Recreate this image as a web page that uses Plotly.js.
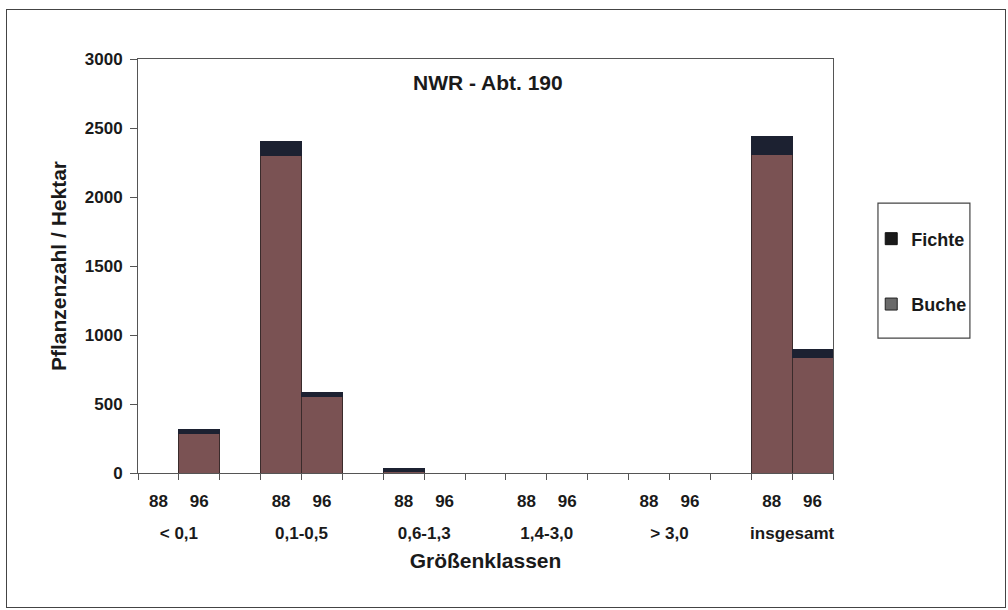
<!DOCTYPE html>
<html>
<head>
<meta charset="utf-8">
<script src="https://cdn.plot.ly/plotly-3.0.1.min.js"></script>
<style>
  html, body { margin: 0; padding: 0; background: #fff; }
  #wrap { position: relative; width: 1008px; height: 610px; }
  #chart { width: 1008px; height: 610px; }
  #frame { position: absolute; left: 6px; top: 9px; width: 998px; height: 597px;
           border: 1.5px solid #444; pointer-events: none; }
</style>
</head>
<body>
<div id="wrap">
  <div id="chart"></div>
  <div id="frame"></div>
</div>
<script>
// ---- data ----
const groups = ['< 0,1', '0,1-0,5', '0,6-1,3', '1,4-3,0', '> 3,0', 'insgesamt'];
const years = ['88', '96'];
const buche88  = [0, 2300, 10, 0, 0, 2310];
const buche96  = [285, 555, 0, 0, 0, 840];
const fichte88 = [0, 100, 25, 0, 0, 125];
const fichte96 = [30, 25, 0, 0, 0, 55];
const chartTitle = 'NWR - Abt. 190';
const yTitle = 'Pflanzenzahl / Hektar';
const xTitle = 'Größenklassen';

// ---- build slots: each group has two bars and one empty slot between groups ----
const slotsPerGroup = years.length + 1;
const nSlots = groups.length * slotsPerGroup - 1;
const xs = [], yearText = [], bucheVals = [], fichteVals = [];
groups.forEach((g, gi) => {
  years.forEach((yr, yi) => {
    xs.push(gi * slotsPerGroup + yi + 0.5);
    yearText.push(yr);
    bucheVals.push(yi === 0 ? buche88[gi] : buche96[gi]);
    fichteVals.push(yi === 0 ? fichte88[gi] : fichte96[gi]);
  });
});
const groupCenters = groups.map((g, gi) => gi * slotsPerGroup + years.length / 2);
const boundaries = Array.from({length: nSlots + 1}, (_, i) => i);

const FONT = 'Liberation Sans, Arial, Helvetica, sans-serif';
const bold = (size) => ({family: FONT, size: size, color: '#1a1a1a', weight: 'bold'});

const traces = [
  {type: 'bar', name: 'Buche', x: xs, y: bucheVals, width: 1, showlegend: false,
   marker: {color: '#7a5253', line: {color: '#3a2b2b', width: 1}}, hoverinfo: 'y'},
  {type: 'bar', name: 'Fichte', x: xs, y: fichteVals, width: 1, showlegend: false,
   marker: {color: '#1c2131', line: {color: '#1c2131', width: 1}}, hoverinfo: 'y'},
  // legend entries (swatch colours as in the printed legend)
  {type: 'bar', name: 'Fichte', x: [null], y: [null], legendgroup: 'f',
   marker: {color: '#1a1a1a', line: {color: '#111', width: 1}}},
  {type: 'bar', name: 'Buche', x: [null], y: [null], legendgroup: 'b',
   marker: {color: '#6a6a6a', line: {color: '#222', width: 1}}}
];

const layout = {
  width: 1008, height: 610,
  margin: {l: 138, r: 175, t: 59, b: 137},
  paper_bgcolor: '#fff', plot_bgcolor: '#fff',
  barmode: 'stack', bargap: 0,
  showlegend: true,
  legend: {x: 1.055, xanchor: 'left', y: 0.61, yanchor: 'top',
           traceorder: 'grouped', tracegroupgap: 39,
           bgcolor: 'rgba(0,0,0,0)', borderwidth: 0, font: bold(18)},
  xaxis: {range: [0, nSlots], tickmode: 'array', tickvals: boundaries,
          ticks: 'outside', ticklen: 6, tickcolor: '#555', tickwidth: 1,
          showticklabels: false, showline: true, linecolor: '#555', linewidth: 1,
          mirror: true, showgrid: false, zeroline: false, fixedrange: true,
          title: {text: xTitle, font: bold(21), standoff: 74}},
  xaxis2: {overlaying: 'x', anchor: 'y', side: 'bottom', range: [0, nSlots],
           tickmode: 'array', tickvals: xs, ticktext: yearText, ticks: '',
           showline: false, showgrid: false, zeroline: false,
           ticklabelstandoff: 16, tickfont: bold(17)},
  xaxis3: {overlaying: 'x', anchor: 'y', side: 'bottom', range: [0, nSlots],
           tickmode: 'array', tickvals: groupCenters, ticktext: groups, ticks: '',
           showline: false, showgrid: false, zeroline: false,
           ticklabelstandoff: 48, tickfont: bold(17)},
  yaxis: {range: [0, 3000], dtick: 500, tick0: 0, ticks: 'outside', ticklen: 7,
          tickcolor: '#555', showline: true, linecolor: '#555', linewidth: 1,
          mirror: true, showgrid: false, zeroline: false, tickfont: bold(17),
          ticklabelstandoff: 4,
          title: {text: yTitle, font: bold(21), standoff: 12}},
  annotations: [
    {xref: 'paper', yref: 'paper', x: 0.504, y: 0.944, text: chartTitle,
     showarrow: false, font: bold(21), xanchor: 'center', yanchor: 'middle'}
  ],
  shapes: [
    {type: 'rect', xref: 'paper', yref: 'paper', x0: 1.0647, x1: 1.197,
     y0: 0.326, y1: 0.652, line: {color: '#444', width: 1.2}}
  ]
};

// attach the label-only axes with invisible traces so they render
traces.push({type: 'scatter', x: [null], y: [null], xaxis: 'x2', showlegend: false, hoverinfo: 'skip'});
traces.push({type: 'scatter', x: [null], y: [null], xaxis: 'x3', showlegend: false, hoverinfo: 'skip'});

Plotly.newPlot('chart', traces, layout, {displayModeBar: false, staticPlot: true});
</script>
</body>
</html>
